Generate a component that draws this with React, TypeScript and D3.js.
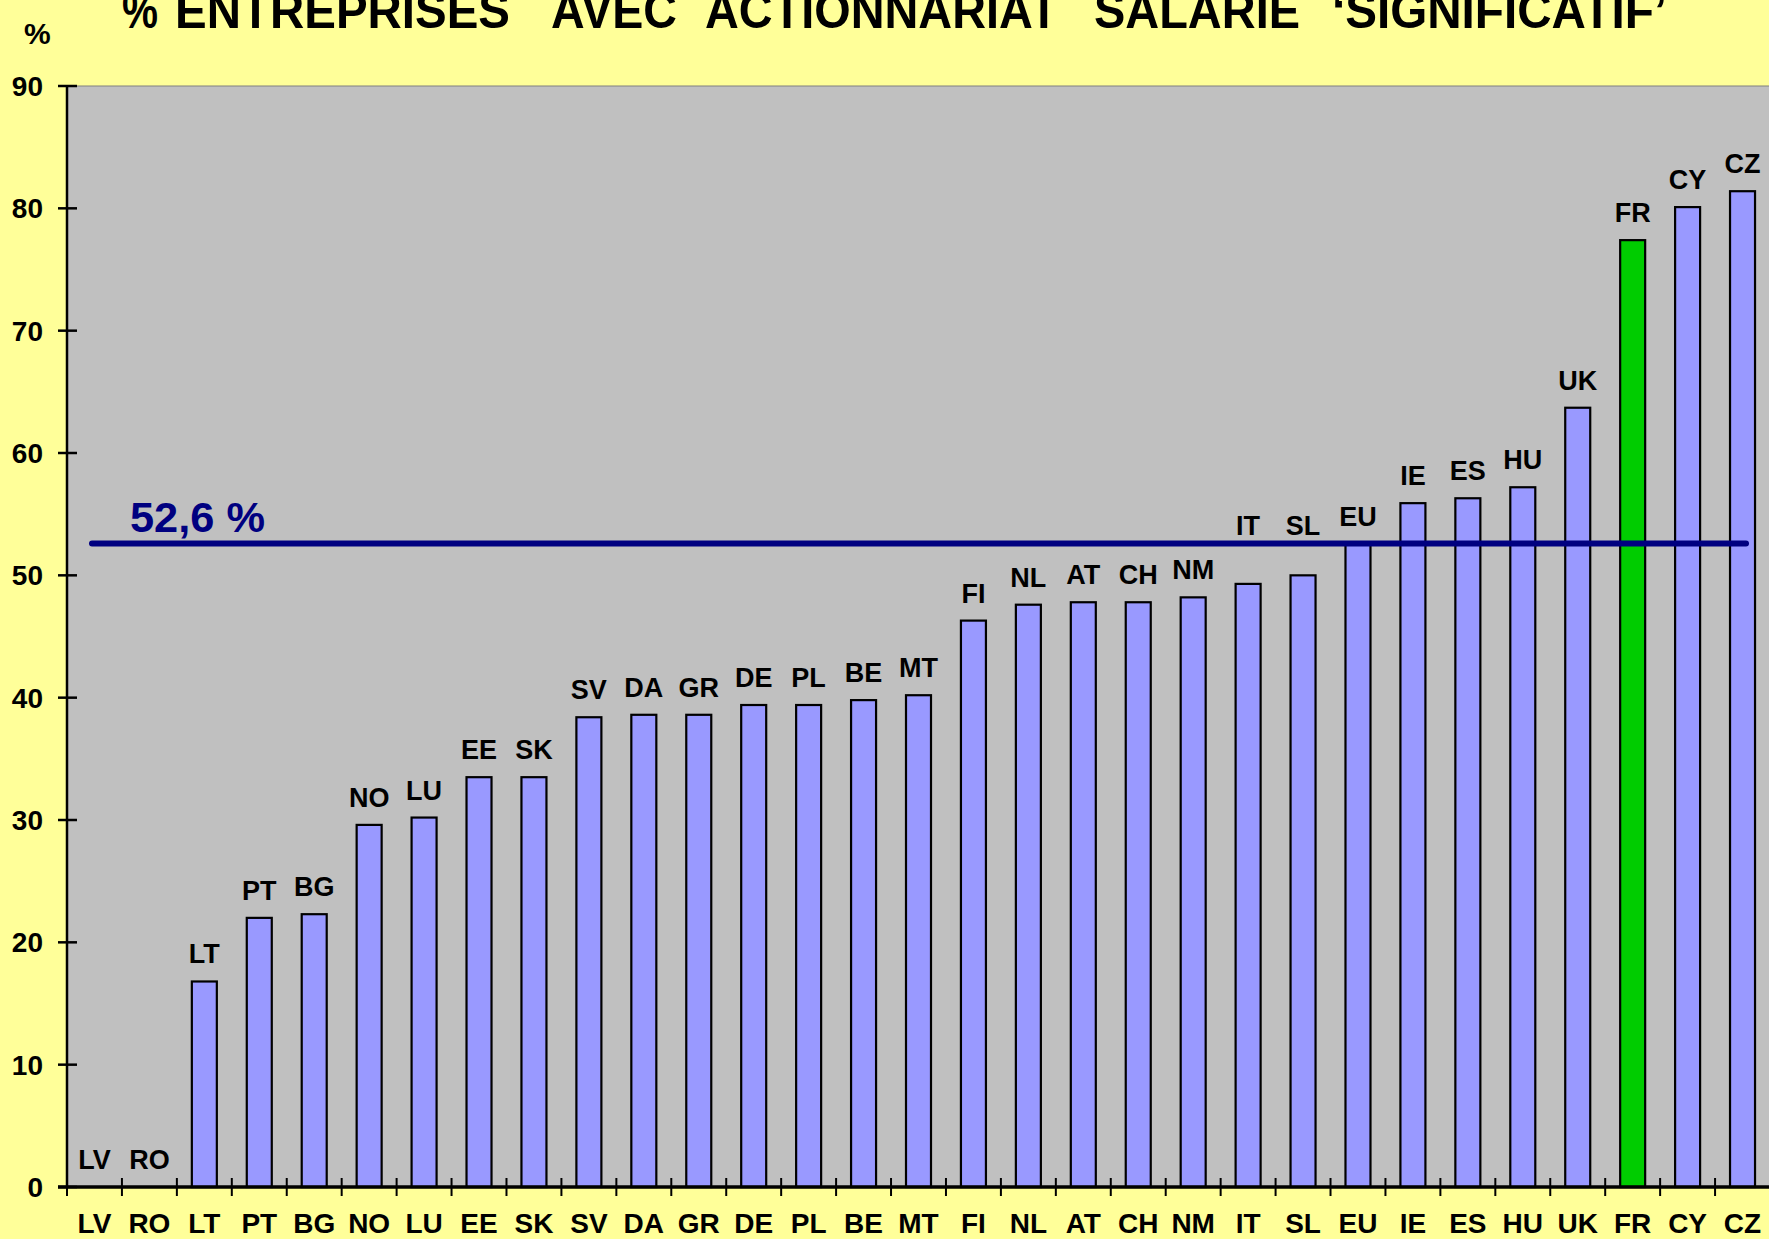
import React from "react";
import * as d3 from "d3";

const categories = ["LV","RO","LT","PT","BG","NO","LU","EE","SK","SV","DA","GR","DE","PL","BE","MT","FI","NL","AT","CH","NM","IT","SL","EU","IE","ES","HU","UK","FR","CY","CZ"];
const values = [0,0,16.8,22.0,22.3,29.6,30.2,33.5,33.5,38.4,38.6,38.6,39.4,39.4,39.8,40.2,46.3,47.6,47.8,47.8,48.2,49.3,50.0,52.6,55.9,56.3,57.2,63.7,77.4,80.1,81.4];
const highlight = ["FR"];
const yTicks = [0,10,20,30,40,50,60,70,80,90];
const refValue = 52.6;
const refLabel = "52,6 %";
const titleWords = ["%", "ENTREPRISES", "AVEC", "ACTIONNARIAT", "SALARIE", "‘SIGNIFICATIF’"];
const titleSpans: [number, number][] = [[122, 158], [175, 510], [551, 677], [705, 1058], [1094, 1300], [1332, 1667]];

const W = 1769, H = 1239;
const M = { left: 67, right: 1770, top: 86, bottom: 1187 };
const FONT = "'Liberation Sans', Arial, sans-serif";

export default function App() {
  const xb = d3.scaleBand<string>().domain(categories).range([M.left, M.right]);
  const y = d3.scaleLinear().domain([0, 90]).range([M.bottom, M.top]);
  const yRef = y(refValue);

  return (
    <svg width={W} height={H} style={{ position: "absolute", left: 0, top: 0, display: "block" }} fontFamily={FONT}>
      <rect x={0} y={0} width={W} height={H} fill="#FFFF99" />
      {titleWords.map((w, i) => (
        <text key={w} x={titleSpans[i][0]} y={28} fontSize={50} fontWeight="bold" textLength={titleSpans[i][1] - titleSpans[i][0]} lengthAdjust="spacingAndGlyphs">{w}</text>
      ))}
      <text x={24} y={44} fontSize={30} fontWeight="bold">%</text>
      <rect x={M.left} y={M.top} width={M.right - M.left} height={M.bottom - M.top} fill="#C0C0C0" stroke="#808080" strokeWidth={1} />
      {yTicks.map((t) => (
        <g key={t}>
          <line x1={M.left - 9} x2={M.left + 10} y1={y(t)} y2={y(t)} stroke="#000" strokeWidth={2.5} />
          <text x={43} y={y(t) + 10} fontSize={28} fontWeight="bold" textAnchor="end">{t}</text>
        </g>
      ))}
      {categories.map((c, i) => {
        const v = values[i];
        const bx = xb(c)!;
        const cx = bx + xb.bandwidth() / 2;
        const top = y(v);
        let base = top - 18;
        if (base > yRef - 9 && base - 20 < yRef + 4) base = yRef - 9;
        return (
          <g key={c}>
            {v > 0 && (
              <rect x={cx - 12.5} y={top} width={25} height={M.bottom - top} fill={highlight.includes(c) ? "#00CC00" : "#9999FF"} stroke="#000" strokeWidth={2.2} />
            )}
            <text x={cx} y={base} fontSize={27} fontWeight="bold" textAnchor="middle">{c}</text>
            <text x={cx} y={1233} fontSize={28} fontWeight="bold" textAnchor="middle">{c}</text>
            <line x1={bx} x2={bx} y1={M.bottom - 9} y2={M.bottom + 9} stroke="#000" strokeWidth={2} />
          </g>
        );
      })}
      <line x1={M.left} x2={M.left} y1={M.top} y2={M.bottom} stroke="#000" strokeWidth={2.5} />
      <line x1={M.left - 9} x2={M.right} y1={M.bottom} y2={M.bottom} stroke="#000" strokeWidth={3.5} />
      <line x1={92} x2={1746} y1={yRef} y2={yRef} stroke="#000080" strokeWidth={6} strokeLinecap="round" />
      <text x={130} y={yRef - 12} fontSize={42} fontWeight="bold" fill="#000080" textLength={135} lengthAdjust="spacingAndGlyphs">{refLabel}</text>
    </svg>
  );
}
